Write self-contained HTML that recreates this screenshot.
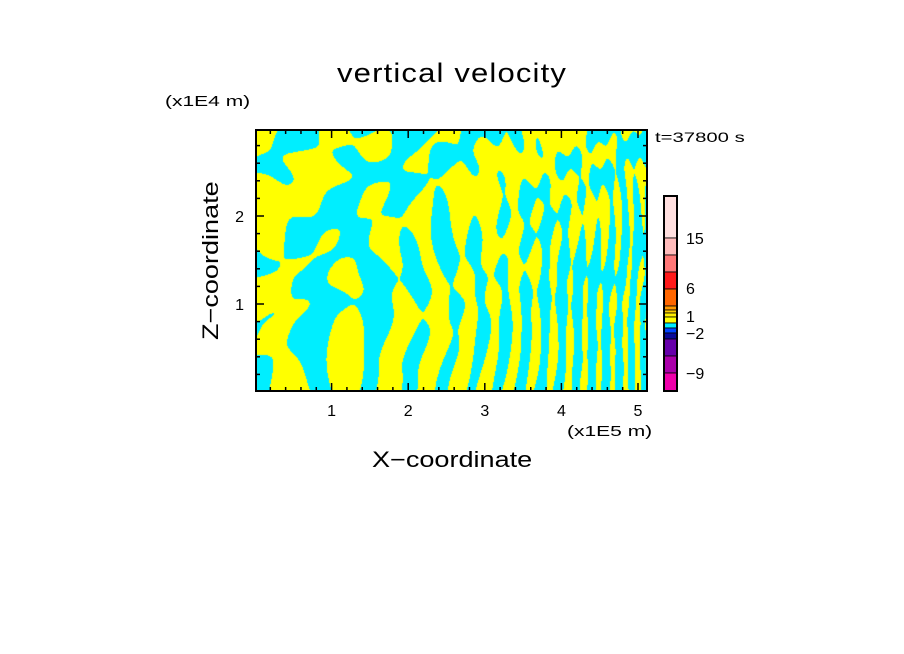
<!DOCTYPE html>
<html><head><meta charset="utf-8"><style>
html,body{margin:0;padding:0;background:#fff;}
#wrap{position:relative;width:904px;height:654px;overflow:hidden;font-family:"Liberation Sans",sans-serif;color:#000;}
.t{position:absolute;white-space:nowrap;transform-origin:0 0;}
</style></head><body>
<div id="wrap">
<div class="t" style="left:337px;top:58px;font-size:27px;letter-spacing:1px;transform:scaleX(1.15);">vertical velocity</div>
<div class="t" style="left:165px;top:93px;font-size:15px;transform:scaleX(1.4);">(x1E4 m)</div>
<div class="t" style="left:655px;top:129px;font-size:14px;transform:scaleX(1.45);">t=37800 s</div>
<div class="t" style="left:567px;top:423px;font-size:15px;transform:scaleX(1.4);">(x1E5 m)</div>
<div class="t" style="left:372px;top:447px;font-size:22px;transform:scaleX(1.23);">X−coordinate</div>
<div class="t" style="left:198px;top:340px;font-size:22px;transform:rotate(-90deg) scaleX(1.23);">Z−coordinate</div>
<canvas id="field" width="391" height="261" style="position:absolute;left:256px;top:130px;"></canvas>
<svg id="svg" width="904" height="654" style="position:absolute;left:0;top:0;"></svg>
</div>
<script>
const xTicks=[1,2,3,4,5];
const yTicks=[1,2];
const cbColors=["#ffdfdf","#ffbbbb","#ff7777","#ff1a1a","#ff6600","#ff9900","#ffcc00","#ffee00","#ffff00","#00eeff","#0044ff","#0a0a99","#6600aa","#aa00aa","#ee00aa"];
const cbBounds=[196,238,255,272,289,306,310,313,317,323,328,333,339,356,373,391];
const cbLabels=["15","6","1","−2","−9"];
const cbLabelY=[238,288,316,333,373];
const X0=256,X1=647,Y0=130,Y1=391;
const xs=v=>255+v*76.6, ys=v=>392-v*88;
const NS="http://www.w3.org/2000/svg";
const svg=document.getElementById('svg');
function mk(tag,attrs){const e=document.createElementNS(NS,tag);for(const k in attrs)e.setAttribute(k,attrs[k]);svg.appendChild(e);return e;}
// field
const cv=document.getElementById('field'),ctx=cv.getContext('2d');
const img=ctx.createImageData(391,261);
for(let j=0;j<261;j++)for(let i=0;i<391;i++){
 const u=i/391,v=j/261;
 const slow=1.5*Math.sin(j*0.018+i*0.008)+0.8*Math.sin(j*0.04-i*0.015);
 const kx=0.09+0.15*u*u;
 const stripes=Math.sin(i*kx+slow+(j-130)*0.012*(u-0.6)*(1-v))*(0.5+0.9*v*(0.3+u));
 const blobs=Math.sin(i*0.07+j*0.09+Math.sin(i*0.035+j*0.03)*2)*(1.1-0.8*v)
   +0.7*Math.sin(i*0.06-j*0.08+Math.cos(j*0.05)*1.5+1.3)*(1.1-0.7*v);
 let f=stripes+blobs*0.8+0.3*Math.sin(i*0.02+j*0.01+2)+0.6*v*(1-u)*(1-u)-0.1;
 const cyan=f<0.0;
 const k=(j*391+i)*4;
 img.data[k]=cyan?0:255;img.data[k+1]=cyan?238:255;img.data[k+2]=cyan?255:0;img.data[k+3]=255;
}
ctx.putImageData(img,0,0);
// frame
const fr=mk('rect',{x:X0,y:Y0,width:X1-X0,height:Y1-Y0,fill:'none',stroke:'#000','stroke-width':2});


for(let m=1;m<=25;m++){const v=m*0.2;const x=xs(v);if(x>X1-1)break;const L=(m%5==0)?8:4;
 mk('line',{x1:x,y1:Y1,x2:x,y2:Y1-L,stroke:'#000','stroke-width':1.5});
 mk('line',{x1:x,y1:Y0,x2:x,y2:Y0+L,stroke:'#000','stroke-width':1.5});}
for(let m=1;m<=14;m++){const v=m*0.2;const y=ys(v);if(y<Y0+1)break;const L=(m%5==0)?8:4;
 mk('line',{x1:X0,y1:y,x2:X0+L,y2:y,stroke:'#000','stroke-width':1.5});
 mk('line',{x1:X1,y1:y,x2:X1-L,y2:y,stroke:'#000','stroke-width':1.5});}
xTicks.forEach(v=>{const t=mk('text',{x:xs(v),y:416,'font-size':16,'text-anchor':'middle','font-family':'Liberation Sans'});t.textContent=v;
 
 });
yTicks.forEach(v=>{const t=mk('text',{x:244,y:ys(v)+6,'font-size':16,'text-anchor':'end','font-family':'Liberation Sans'});t.textContent=v;
 
 });
// colorbar
cbColors.forEach((c,i)=>{const r=mk('rect',{x:664,y:cbBounds[i],width:13,height:cbBounds[i+1]-cbBounds[i],fill:c,stroke:'#000','stroke-width':0.8});
 
 });
const cb=mk('rect',{x:664,y:196,width:13,height:195,fill:'none',stroke:'#000','stroke-width':2});


cbLabels.forEach((s,i)=>{const t=mk('text',{x:686,y:cbLabelY[i]+6,'font-size':16,'font-family':'Liberation Sans'});t.textContent=s;
 
 });
</script>
</body></html>
